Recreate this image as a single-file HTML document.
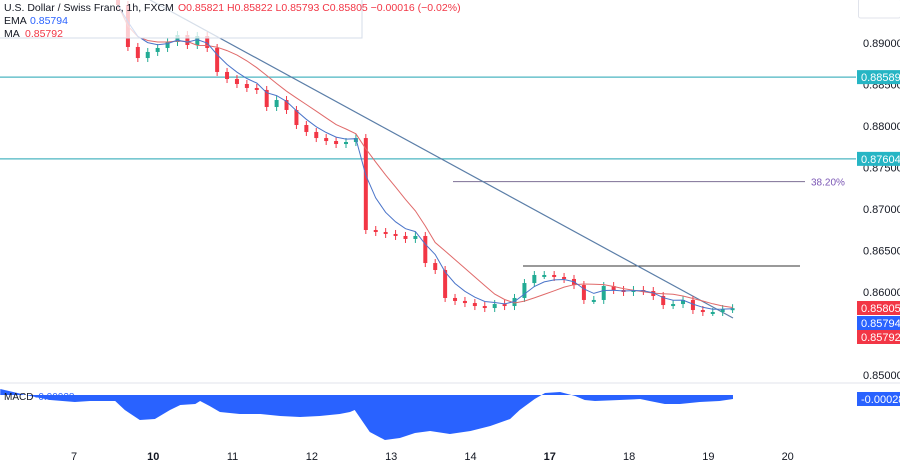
<!DOCTYPE html>
<html><head><meta charset="utf-8"><style>
html,body{margin:0;padding:0;background:#fff;}
body{width:900px;height:462px;overflow:hidden;font-family:"Liberation Sans",sans-serif;}
svg text{font-family:"Liberation Sans",sans-serif;}
</style></head><body>
<svg id="chart" width="900" height="462" viewBox="0 0 900 462" xmlns="http://www.w3.org/2000/svg">
<g id="price-pane"></g>
<g id="macd-pane"></g>
<g id="axes"></g>
<g id="legend"></g>
</svg>
<script>
const closes=[0.89458,0.88952,0.88819,0.88892,0.88940,0.89012,0.89096,0.88976,0.89084,0.88940,
0.88651,0.88566,0.88506,0.88458,0.88434,0.88229,0.88313,0.88193,0.88012,0.87928,
0.87855,0.87819,0.87783,0.87807,0.87855,0.86747,0.86723,0.86699,0.86675,0.86639,
0.86675,0.86349,0.86265,0.85928,0.85892,0.85867,0.85831,0.85807,0.85855,0.85831,
0.85928,0.86108,0.86205,0.86205,0.86181,0.86157,0.86084,0.85904,0.85904,0.86072,
0.86024,0.86000,0.86024,0.86012,0.85952,0.85843,0.85855,0.85904,0.85783,0.85759,
0.85759,0.85795,0.85805];
const firstOpen=0.89600;
const priceTicks=[0.89,0.885,0.88,0.875,0.87,0.865,0.86,0.855,0.85];
const dayLabels=["7","10","11","12","13","14","17","18","19","20"];
const boldDays=["10","17"];
const macdTimes=[-0.93,-0.55,-0.3,0.01,0.2,0.52,0.64,0.83,1.02,1.21,1.34,1.53,1.59,1.71,1.84,2.09,2.35,2.6,2.85,3.1,3.35,3.48,3.54,3.73,3.92,4.11,4.3,4.49,4.74,5.0,5.25,5.5,5.62,5.81,5.94,6.13,6.32,6.44,6.57,6.88,7.14,7.26,7.45,7.64,7.89,8.14,8.31];
const macdValues=[0.0003,-0.00005,-0.00025,-0.00035,-0.0003,-0.0003,-0.00075,-0.00125,-0.0012,-0.00075,-0.0005,-0.00045,-0.0003,-0.00055,-0.00085,-0.00095,-0.00095,-0.00105,-0.0011,-0.00105,-0.00095,-0.00085,-0.00075,-0.00185,-0.00225,-0.00215,-0.0019,-0.0018,-0.00195,-0.0018,-0.00155,-0.0012,-0.00075,-0.0002,0.0001,0.00015,-0.00005,-0.00025,-0.0003,-0.00025,-0.0002,-0.0003,-0.00045,-0.00045,-0.00035,-0.0003,-0.0002];
const levels=[0.88589,0.87604];
const fibLevel=0.87330, fibLabel="38.20%";
const resistance=0.86313;

const NS="http://www.w3.org/2000/svg";
const yP=p=>43+(0.89-p)*8300;
const xT=t=>74+t*79.3;
const xBar=i=>xT(0.555+0.125*i);
const yM=v=>395-v/0.00005;
function mk(tag,attrs,parent){const e=document.createElementNS(NS,tag);for(const k in attrs)e.setAttribute(k,attrs[k]);parent.appendChild(e);return e;}
const pp=document.getElementById('price-pane'),mp=document.getElementById('macd-pane'),ax=document.getElementById('axes'),lg=document.getElementById('legend');

let sep=mk('line',{x1:0,x2:900,y1:383,y2:383,stroke:'#e0e3eb','stroke-width':1},ax);



levels.forEach(l=>{const e=mk('line',{x1:0,x2:856,y1:yP(l),y2:yP(l),stroke:'#4cb5c2','stroke-width':1.2},pp);

});
let fib=mk('line',{x1:453,x2:805,y1:yP(fibLevel),y2:yP(fibLevel),stroke:'#7d6f95','stroke-width':1},pp);


let fibT=mk('text',{x:811,y:yP(fibLevel)+4,'font-size':10,fill:'#7b57b5'},pp);fibT.textContent=fibLabel;


let res=mk('line',{x1:523,x2:800,y1:yP(resistance),y2:yP(resistance),stroke:'#333','stroke-width':1},pp);


let tl=mk('line',{x1:150,y1:0,x2:733,y2:318,stroke:'#5b7ea8','stroke-width':1.2},pp);



closes.forEach((c,i)=>{const o=i?closes[i-1]:firstOpen;const up=c>=o;const col=up?'#22ab94':'#f23645';
const x=xBar(i);const top=Math.min(yP(o),yP(c)),bot=Math.max(yP(o),yP(c));
const w=mk('line',{x1:x,x2:x,y1:top-4,y2:bot+4,stroke:col,'stroke-width':1},pp);


const b=mk('rect',{x:x-2,y:top,width:4,height:Math.max(2,bot-top),fill:col},pp);

});

const ema=[];let a=2/(4+1);closes.forEach((c,i)=>ema.push(i?ema[i-1]+a*(c-ema[i-1]):c));
const ma=closes.map((c,i)=>{const s=closes.slice(Math.max(0,i-7),i+1);return s.reduce((p,q)=>p+q,0)/s.length;});
const path=arr=>arr.map((v,i)=>(i?'L':'M')+xBar(i).toFixed(1)+','+yP(v).toFixed(1)).join('');
let maL=mk('path',{d:path(ma),fill:'none',stroke:'#e06a6a','stroke-width':1},pp);


let emaL=mk('path',{d:path(ema),fill:'none',stroke:'#4a74c9','stroke-width':1},pp);



let d='M'+xT(macdTimes[0])+','+yM(0);macdTimes.forEach((t,i)=>d+='L'+xT(t).toFixed(1)+','+yM(macdValues[i]).toFixed(1));
d+='L'+xT(macdTimes[macdTimes.length-1])+','+yM(0)+'Z';
let ma2=mk('path',{d:d,fill:'#2962ff',stroke:'none'},mp);


let mt=mk('text',{x:4,y:400,'font-size':10,fill:'#131722'},mp);mt.textContent='MACD';


let mv=mk('text',{x:35,y:400,'font-size':10,fill:'#2962ff'},mp);mv.textContent='-0.00028';



priceTicks.forEach(p=>{const t=mk('text',{x:863,y:yP(p)+4,'font-size':11,fill:'#131722'},ax);t.textContent=p.toFixed(5);

});
function tag(y,val,col,name){const r=mk('rect',{x:857,y:y-7,width:43,height:14,fill:col},ax);


const t=mk('text',{x:861,y:y+4,'font-size':11,fill:'#fff'},ax);t.textContent=val;}
tag(yP(0.88589),'0.88589','#26b5c4','level-tag-1');
tag(yP(0.87604),'0.87604','#26b5c4','level-tag-2');
tag(308,'0.85805','#f23645','close-tag');
tag(323,'0.85794','#2962ff','ema-tag');
tag(337,'0.85792','#f23645','ma-tag');
tag(399,'-0.00028','#2962ff','macd-tag');
let btn=mk('rect',{x:858.5,y:-1,width:42,height:19,fill:'#fff',stroke:'#e0e3eb',rx:2},ax);



dayLabels.forEach((l,i)=>{const t=mk('text',{x:xT(i),y:460,'font-size':11,'text-anchor':'middle',fill:'#131722','font-weight':boldDays.includes(l)?'bold':'normal'},ax);t.textContent=l;

});

let lb=mk('rect',{x:-1,y:-1,width:363,height:39,fill:'rgba(255,255,255,0.75)',stroke:'#d6dcea'},lg);


function txt(x,y,s,c,n){const t=mk('text',{x:x,y:y,'font-size':10.5,fill:c},lg);t.textContent=s;return t;}
txt(4,11,'U.S. Dollar / Swiss Franc, 1h, FXCM','#131722','symbol-title');
txt(178,11,'O0.85821  H0.85822  L0.85793  C0.85805  −0.00016 (−0.02%)','#f23645','ohlc-values').setAttribute('xml:space','preserve');
txt(4,24,'EMA','#131722','ema-legend');
txt(30,24,'0.85794','#2962ff','ema-value');
txt(4,37,'MA','#131722','ma-legend');
txt(25,37,'0.85792','#f23645','ma-value');
</script>
</body></html>
